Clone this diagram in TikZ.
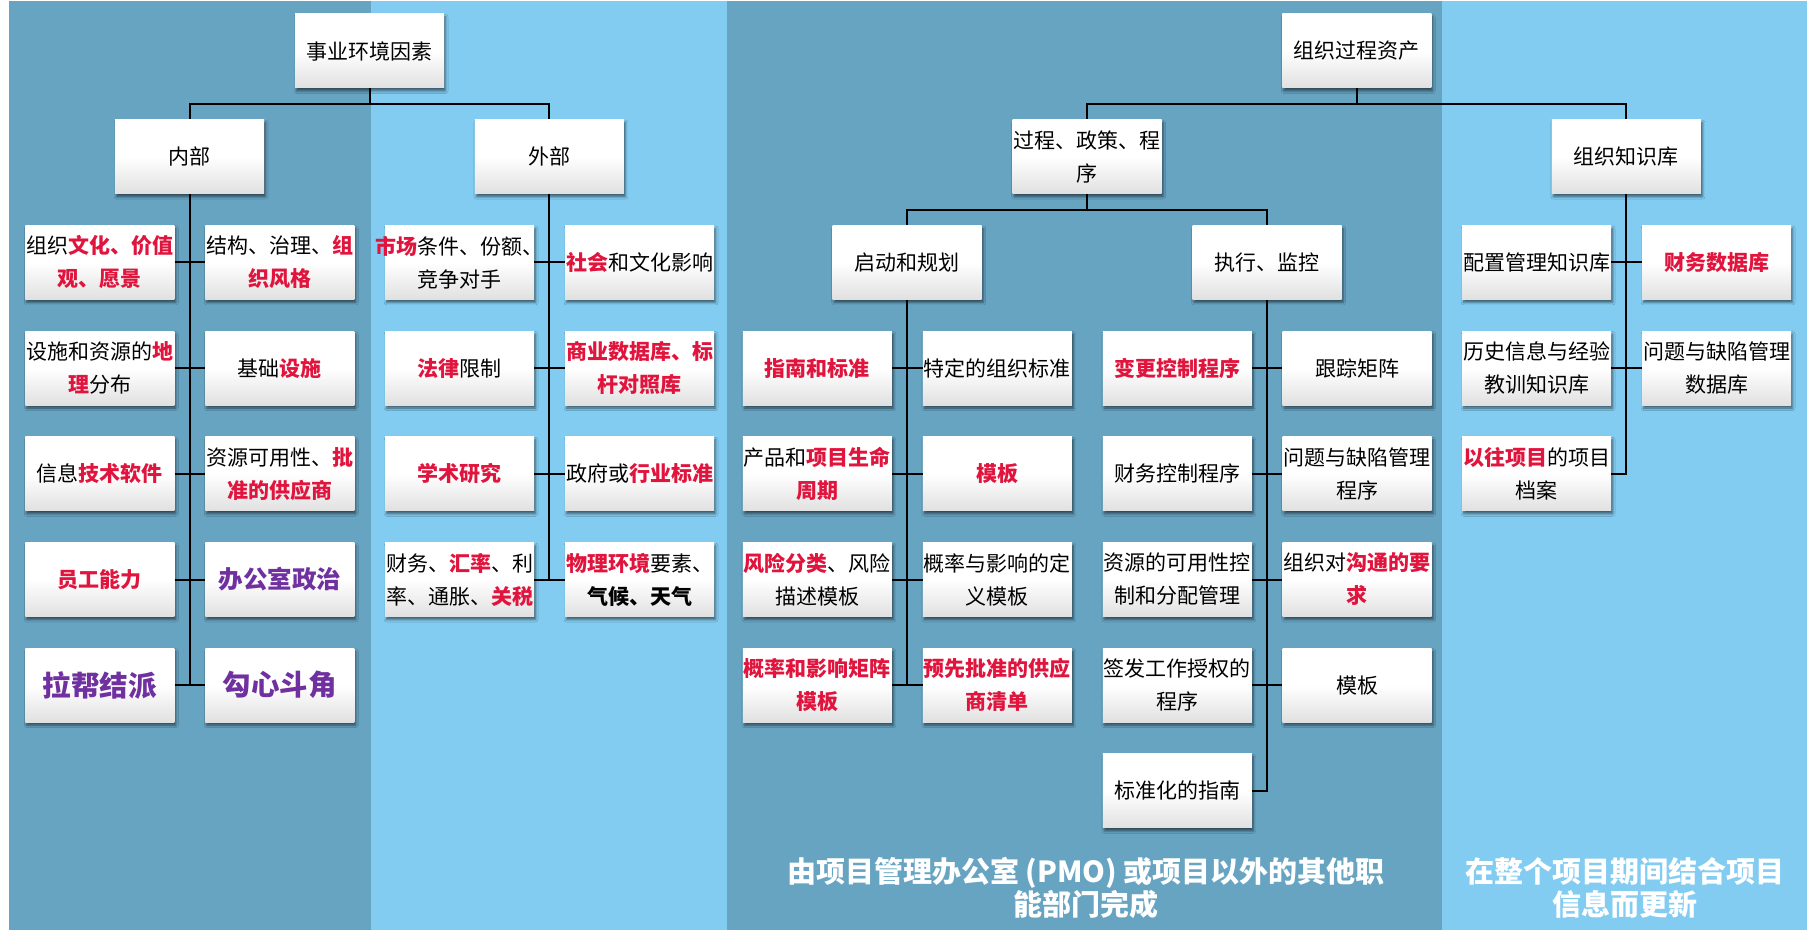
\documentclass[tikz,border=0pt]{standalone}
\usepackage{fontspec}
\setmainfont{Noto Sans CJK SC}
\usetikzlibrary{calc,positioning,shadows.blur}
\definecolor{panelsteel}{RGB}{103,164,194}
\definecolor{panelsky}{RGB}{131,204,241}
\definecolor{keyred}{RGB}{224,20,60}
\definecolor{officepurple}{RGB}{112,48,160}
\newcommand{\keyw}[1]{\textcolor{keyred}{\bfseries #1}}
\tikzset{
  factor/.style={
    rectangle,
    minimum width=149pt,
    minimum height=74pt,
    text width=147pt,
    inner xsep=1pt,
    inner ysep=0pt,
    align=center,
    top color=white,
    bottom color=black!12,
    middle color=white,
    blur shadow={shadow xshift=1.5pt,shadow yshift=-3pt,shadow blur radius=2.5pt,shadow opacity=55},
    font=\fontsize{21}{33}\selectfont
  },
  politics/.style={
    factor,
    text=officepurple,
    font=\bfseries\fontsize{24.5}{30}\selectfont
  },
  clique/.style={
    factor,
    text=officepurple,
    font=\bfseries\fontsize{28.5}{34}\selectfont
  },
  remark/.style={
    align=center,
    text=white,
    font=\bfseries\fontsize{29}{33}\selectfont
  },
  link/.style={
    line width=2pt,
    black
  },
  bus/.style={
    to path={|- ($(\tikztostart)!.5!(\tikztotarget)$) -| (\tikztotarget)}
  }
}

\begin{document}
\begin{tikzpicture}[x=1pt,y=1pt,node distance=31.3pt and 30.5pt]
\useasboundingbox (0,0) rectangle (1816,-941);
\fill[panelsteel] (9,-1) rectangle (371,-930);
\fill[panelsky] (371,-1) rectangle (727,-930);
\fill[panelsteel] (727,-1) rectangle (1442,-930);
\fill[panelsky] (1442,-1) rectangle (1807,-930);

\node[factor] (env) at (369.5,-51) {事业环境因素};
\node[factor, below left=of env] (inner) {内部};
\node[factor, below right=of env] (outer) {外部};

\node[factor, below=of inner, xshift=-89.75pt] (a1) {组织\keyw{文化、价值}\\\keyw{观、愿景}};
\node[factor, right=of a1] (b1) {结构、治理、\keyw{组}\\\keyw{织风格}};
\node[factor, below=of a1] (a2) {设施和资源的\keyw{地}\\\keyw{理}分布};
\node[factor, right=of a2] (b2) {基础\keyw{设施}};
\node[factor, below=of a2] (a3) {信息\keyw{技术软件}};
\node[factor, right=of a3] (b3) {资源可用性、\keyw{批}\\\keyw{准的供应商}};
\node[factor, below=of a3] (a4) {\keyw{员工能力}};
\node[politics, right=of a4] (b4) {办公室政治};
\node[clique, below=of a4] (a5) {拉帮结派};
\node[clique, right=of a5] (b5) {勾心斗角};

\node[factor, below=of outer, xshift=-89.75pt] (c1) {\makebox[\linewidth]{\keyw{市场}条件、份额、}\\竞争对手};
\node[factor, right=of c1] (d1) {\keyw{社会}和文化影响};
\node[factor, below=of c1] (c2) {\keyw{法律}限制};
\node[factor, right=of c2] (d2) {\keyw{商业数据库、标}\\\keyw{杆对照库}};
\node[factor, below=of c2] (c3) {\keyw{学术研究}};
\node[factor, right=of c3] (d3) {政府或\keyw{行业标准}};
\node[factor, below=of c3] (c4) {财务、\keyw{汇率}、利\\率、通胀、\keyw{关税}};
\node[factor, right=of c4] (d4) {\keyw{物理环境}要素、\\\textbf{气候、天气}};

\node[factor] (opa) at (1356.75,-51) {组织过程资产};
\node[factor, below left=31.3pt and 120.25pt of opa] (proc) {过程、政策、程\\序};
\node[factor, below right=31.3pt and 120.25pt of opa] (know) {组织知识库};
\node[factor, below left=of proc] (plan) {启动和规划};
\node[factor, below right=of proc] (exec) {执行、监控};

\node[factor, below=of plan, xshift=-89.75pt] (e1) {\keyw{指南和标准}};
\node[factor, right=of e1] (f1) {特定的组织标准};
\node[factor, below=of e1] (e2) {产品和\keyw{项目生命}\\\keyw{周期}};
\node[factor, right=of e2] (f2) {\keyw{模板}};
\node[factor, below=of e2] (e3) {\keyw{风险分类}、风险\\描述模板};
\node[factor, right=of e3] (f3) {概率与影响的定\\义模板};
\node[factor, below=of e3] (e4) {\keyw{概率和影响矩阵}\\\keyw{模板}};
\node[factor, right=of e4] (f4) {\keyw{预先批准的供应}\\\keyw{商清单}};

\node[factor, below=of exec, xshift=-89.75pt] (g1) {\keyw{变更控制程序}};
\node[factor, right=of g1] (h1) {跟踪矩阵};
\node[factor, below=of g1] (g2) {财务控制程序};
\node[factor, right=of g2] (h2) {问题与缺陷管理\\程序};
\node[factor, below=of g2] (g3) {资源的可用性控\\制和分配管理};
\node[factor, right=of g3] (h3) {组织对\keyw{沟通的要}\\\keyw{求}};
\node[factor, below=of g3] (g4) {签发工作授权的\\程序};
\node[factor, right=of g4] (h4) {模板};
\node[factor, below=of g4] (g5) {标准化的指南};

\node[factor, below=of know, xshift=-89.75pt] (i1) {配置管理知识库};
\node[factor, right=of i1] (j1) {\keyw{财务数据库}};
\node[factor, below=of i1] (i2) {历史信息与经验\\教训知识库};
\node[factor, right=of i2] (j2) {问题与缺陷管理\\数据库};
\node[factor, below=of i2] (i3) {\keyw{以往项目}的项目\\档案};

\node[remark] (pmonote) at (1086,-888) {由项目管理办公室 (PMO) 或项目以外的其他职\\能部门完成};
\node[remark] (updnote) at (1625,-888) {在整个项目期间结合项目\\信息而更新};

\draw[link] (env.south) to[bus] (inner.north);
\draw[link] (env.south) to[bus] (outer.north);
\draw[link] (inner.south) -- (inner.south |- a5.east);
\draw[link] (outer.south) -- (outer.south |- c4.east);
\draw[link] (a1) -- (b1);
\draw[link] (a2) -- (b2);
\draw[link] (a3) -- (b3);
\draw[link] (a4) -- (b4);
\draw[link] (a5) -- (b5);
\draw[link] (c1) -- (d1);
\draw[link] (c2) -- (d2);
\draw[link] (c3) -- (d3);
\draw[link] (c4) -- (d4);

\draw[link] (opa.south) to[bus] (proc.north);
\draw[link] (opa.south) to[bus] (know.north);
\draw[link] (proc.south) to[bus] (plan.north);
\draw[link] (proc.south) to[bus] (exec.north);
\draw[link] (plan.south) -- (plan.south |- e4.east);
\draw[link] (g5.east) -| (exec.south);
\draw[link] (e1) -- (f1);
\draw[link] (e2) -- (f2);
\draw[link] (e3) -- (f3);
\draw[link] (e4) -- (f4);
\draw[link] (g1) -- (h1);
\draw[link] (g2) -- (h2);
\draw[link] (g3) -- (h3);
\draw[link] (g4) -- (h4);

\draw[link] (i3.east) -| (know.south);
\draw[link] (i1) -- (j1);
\draw[link] (i2) -- (j2);
\end{tikzpicture}
\end{document}
